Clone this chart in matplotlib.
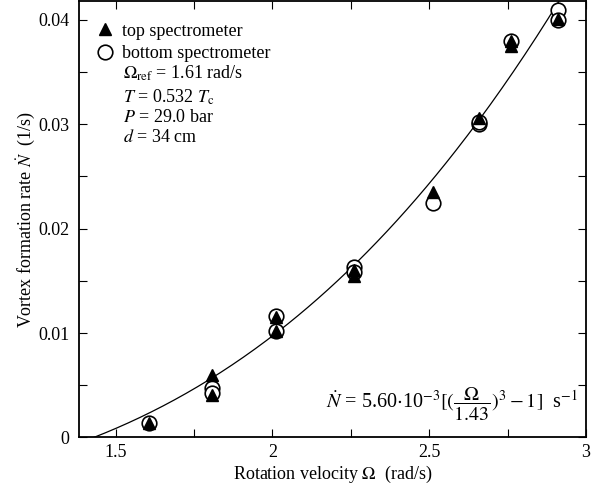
import matplotlib.pyplot as plt
import numpy as np

plt.rcParams.update({
    "font.family": "serif",
    "font.serif": ["Liberation Serif", "DejaVu Serif"],
    "mathtext.fontset": "stix",
    "font.size": 13,
})

# data
omega_top = [1.607, 1.808, 1.808, 2.01, 2.01, 2.259, 2.259, 2.511, 2.66, 2.76, 2.76, 2.91]
rate_top = [0.0014, 0.0060, 0.0041, 0.0115, 0.0102, 0.0160, 0.0155, 0.0235, 0.0306, 0.0380, 0.0375, 0.0401]
omega_bot = [1.607, 1.808, 1.808, 2.01, 2.01, 2.259, 2.259, 2.511, 2.66, 2.66, 2.76, 2.91, 2.91]
rate_bot = [0.0014, 0.0047, 0.0043, 0.0116, 0.0102, 0.0163, 0.0158, 0.0225, 0.0300, 0.0302, 0.0380, 0.0409, 0.0400]

# fit parameters shown in the annotation
fit_a = 5.60e-3
fit_omega_c = 1.43


def setup_axis(ax):
    ax.set_xlim(1.383, 3.0)
    ax.set_ylim(0, 0.0418)
    ax.set_xticks([1.5, 2, 2.5, 3])
    ax.set_xticklabels(["1.5", "2", "2.5", "3"])
    ax.set_xticks([1.75, 2.25, 2.75], minor=True)
    ax.set_yticks([0, 0.01, 0.02, 0.03, 0.04])
    ax.set_yticklabels(["0", "0.01", "0.02", "0.03", "0.04"])
    ax.set_yticks([0.005, 0.015, 0.025, 0.035], minor=True)
    ax.tick_params(which="both", direction="in", top=True, right=True)
    ax.tick_params(which="major", length=6, width=0.8, labelsize=13)
    ax.tick_params(axis="y", which="major", pad=7)
    ax.tick_params(axis="x", which="major", pad=5)
    ax.tick_params(which="minor", length=6, width=0.8)
    for s in ax.spines.values():
        s.set_linewidth(1.3)


fig = plt.figure(figsize=(6.01, 4.91), dpi=100)
ax = fig.add_axes([0.1314, 0.109, 0.8436, 0.889])
setup_axis(ax)

om = np.linspace(fit_omega_c, 3.0, 300)
ax.plot(om, fit_a * ((om / fit_omega_c) ** 3 - 1), color="black", lw=0.9, zorder=1)

ax.plot(omega_bot, rate_bot, "o", mfc="white", mec="black", mew=1.2, ms=10.5,
        ls="none", label="bottom spectrometer", zorder=2)
ax.plot(omega_top, rate_top, "^", color="black", ms=9, ls="none",
        label="top spectrometer", zorder=3)

h, l = ax.get_legend_handles_labels()
ax.legend(h[::-1], l[::-1], loc="upper left", frameon=False, fontsize=13,
          handlelength=0.8, handletextpad=0.55, borderaxespad=0.0,
          labelspacing=0.3, bbox_to_anchor=(0.023, 0.967))

tx = 0.0868
ax.text(tx, 0.835, r"$\Omega_{\mathrm{ref}}$ = 1.61 rad/s", transform=ax.transAxes, fontsize=13, va="center")
ax.text(tx, 0.780, r"$T$ = 0.532 $T_{\mathrm{c}}$", transform=ax.transAxes, fontsize=13, va="center")
ax.text(tx, 0.734, r"$P$ = 29.0 bar", transform=ax.transAxes, fontsize=13, va="center")
ax.text(tx, 0.688, r"$d$ = 34 cm", transform=ax.transAxes, fontsize=13, va="center")

ax.text(0.985, 0.077, r"$\dot{N}$ = 5.60$\cdot$10$^{-3}$$[(\dfrac{\Omega}{1.43})^3 - 1]$  s$^{-1}$",
        transform=ax.transAxes, fontsize=14.5, ha="right", va="center")

ax.set_xlabel(r"Rotation velocity $\mathrm{\Omega}$  (rad/s)", fontsize=13, labelpad=2)
ax.set_ylabel(r"Vortex formation rate $\dot{N}$  (1/s)", fontsize=13, labelpad=0)

fig.savefig("out.png", dpi=100)
